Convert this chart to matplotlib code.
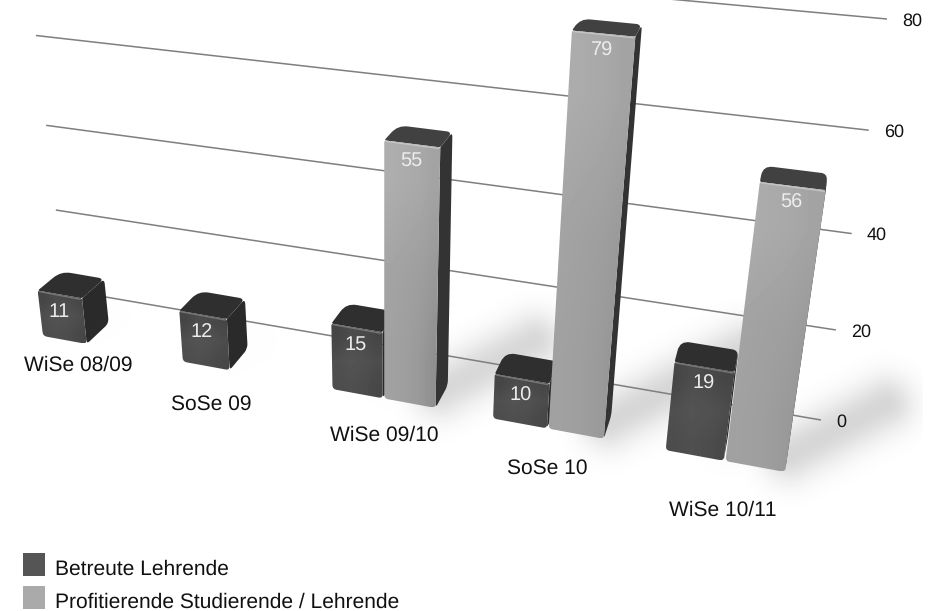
import numpy as np
import matplotlib
matplotlib.use('Agg')
import matplotlib.pyplot as plt
from matplotlib.patches import PathPatch, Rectangle
from matplotlib.path import Path

plt.rcParams['font.family'] = ['Liberation Sans', 'DejaVu Sans']
plt.rcParams['text.hinting'] = 'none'
plt.rcParams['text.hinting_factor'] = 1

# ── data ─────────────────────────────────────────────
semesters = ['WiSe 08/09', 'SoSe 09', 'WiSe 09/10', 'SoSe 10', 'WiSe 10/11']
betreute = [11, 12, 15, 10, 19]
profitierende = [None, None, 55, 79, 56]
series_names = ['Betreute Lehrende', 'Profitierende Studierende / Lehrende']
axis_ticks = [0, 20, 40, 60, 80]

# ── scene set-up: pixel positions of the two planes ──
W, H = 937, 611
BAR_W = 0.32
GAP = 0.33
U_MAX = 4.65
V_MAX = 80
VANISH = np.array([873.0, -400.0])   # depth lines meet here
DEPTH = 0.028                        # bar depth as share of distance to VANISH


def fit_plane(dst, u_max=U_MAX, v_max=V_MAX):
    """Homography from the (u, value) rectangle to four pixel corners."""
    src = [(0, 0), (u_max, 0), (0, v_max), (u_max, v_max)]
    A, b = [], []
    for (u, v), (x, y) in zip(src, dst):
        A.append([u, v, 1, 0, 0, 0, -u * x, -v * x])
        A.append([0, 0, 0, u, v, 1, -u * y, -v * y])
        b += [x, y]
    return np.append(np.linalg.solve(np.array(A, float), np.array(b, float)), 1).reshape(3, 3)


FRONT = fit_plane([(43, 336), (785, 472), (0, -30), (846, 51)])
WALL = fit_plane([(65, 290), (821, 420), (25, -60), (887, 19)], u_max=1)


def project(plane, u, v):
    p = plane @ np.array([u, v, 1.0])
    return p[:2] / p[2]


def recede(p):
    return p + DEPTH * (VANISH - p)


def rounded(pts, radii):
    """Closed path through pts with each corner rounded by its radius."""
    pts = [np.asarray(p, float) for p in pts]
    verts, codes = [], []
    n = len(pts)
    for i, p in enumerate(pts):
        prev, nxt = pts[i - 1], pts[(i + 1) % n]
        a = p + (prev - p) / np.linalg.norm(prev - p) * radii[i]
        b = p + (nxt - p) / np.linalg.norm(nxt - p) * radii[i]
        verts += [a, p, b]
        codes += [Path.MOVETO if i == 0 else Path.LINETO, Path.CURVE3, Path.CURVE3]
    verts.append(verts[0])
    codes.append(Path.CLOSEPOLY)
    return Path(verts, codes)


def shaded_face(ax, path, shade, z):
    """Fill a path with a gradient image clipped to it."""
    box = path.get_extents()
    im = ax.imshow(shade, cmap='gray', vmin=0, vmax=1, aspect='auto', interpolation='bilinear',
                   extent=(box.x0, box.x1, box.y1, box.y0), zorder=z)
    im.set_clip_path(PathPatch(path, transform=ax.transData))


# ── canvas ───────────────────────────────────────────
fig = plt.figure(figsize=(W / 100, H / 100), dpi=100)
ax = fig.add_axes([0, 0, 1, 1])
ax.axis('off')
ax.set_xlim(0, W)
ax.set_ylim(H, 0)
ax.autoscale(False)

# ── floor shadows, length follows the bar value ──────
xx, yy = np.meshgrid(np.arange(W), np.arange(H))
shadow = np.zeros((H, W))
for i in range(len(semesters)):
    for off, val in ((0, betreute[i]), (GAP, profitierende[i])):
        if val is None:
            continue
        s = project(FRONT, i + off + BAR_W, 0) + np.array([5, -18])
        e = s + val * np.array([1.7, -0.9])
        t = np.clip(((xx - s[0]) * (e - s)[0] + (yy - s[1]) * (e - s)[1]) / ((e - s) ** 2).sum(), 0, 1)
        dist = np.hypot(xx - (s[0] + t * (e - s)[0]), yy - (s[1] + t * (e - s)[1]))
        shadow = np.maximum(shadow, min(1, val / 56) ** 2 * 0.16 * np.exp(-(dist / 28) ** 2))
shadow[:, 923:] = 0
ax.imshow(1 - shadow, cmap='gray', vmin=0, vmax=1, extent=(0, W, H, 0), aspect='auto', zorder=0)

# ── gridlines and value axis ─────────────────────────
for t in axis_ticks:
    a, b = project(WALL, 0, t), project(WALL, 1, t)
    ax.plot([a[0], b[0]], [a[1], b[1]], color='#7f7f7f', lw=1.1, zorder=1, solid_capstyle='butt')
    ax.text(b[0] + 15, b[1] + 2, str(t), fontsize=13, ha='left', va='center', color='#111111', zorder=5)


# ── bars ─────────────────────────────────────────────
def draw_bar(u0, value, front_shade, top_col, side_col, edge_col, z):
    fl, fr = project(FRONT, u0, 0), project(FRONT, u0 + BAR_W, 0)
    tl, tr = project(FRONT, u0, value), project(FRONT, u0 + BAR_W, value)
    bl_top, br_top, br_bot = recede(tl), recede(tr), recede(fr)

    ax.add_patch(PathPatch(rounded([fr, br_bot, br_top, tr], [4, 5, 5, 1]),
                           fc=side_col, ec='none', zorder=z))
    ax.add_patch(PathPatch(rounded([tl, tr, br_top, bl_top], [2, 2, 6, 10]),
                           fc=top_col, ec='none', zorder=z + 0.1))
    front = rounded([tl, tr, fr, fl], [2, 2, 4, 4])
    shaded_face(ax, front, front_shade, z + 0.2)
    # lit edge where the front meets the top
    ax.plot([tl[0] + 2, tr[0] - 2], [tl[1] + 1, tr[1] + 1], color=edge_col, lw=1.0, zorder=z + 0.3)


dark_front = np.array([[0.27, 0.30, 0.29, 0.27], [0.31, 0.33, 0.32, 0.30], [0.30, 0.31, 0.30, 0.28]])
light_front = np.array([[0.68, 0.67, 0.66, 0.64], [0.64, 0.63, 0.62, 0.60], [0.63, 0.62, 0.60, 0.56]])

for i, name in enumerate(semesters):
    draw_bar(i, betreute[i], dark_front, '#2f2f2f', '#2a2a2a', '#777777', 2 + i)
    if profitierende[i] is not None:
        draw_bar(i + GAP, profitierende[i], light_front, '#414141', '#333333', '#c4c4c4', 2.5 + i)

# ── value labels sit just under the top front edge ───
for i in range(len(semesters)):
    for off, val in ((0, betreute[i]), (GAP, profitierende[i])):
        if val is None:
            continue
        p = project(FRONT, i + off + BAR_W / 2, val)
        ax.text(p[0] - 1, p[1] + 17, str(val), fontsize=14.5, color='#ececec',
                ha='center', va='center', zorder=10)

# ── category labels ──────────────────────────────────
label_shift = [(13, 25), (5, 38), (0, 37), (-1, 40), (-3, 49)]
for i, name in enumerate(semesters):
    centre = BAR_W / 2 if profitierende[i] is None else GAP
    p = project(FRONT, i + centre, 0)
    ax.text(p[0] + label_shift[i][0], p[1] + label_shift[i][1], name, fontsize=15.2,
            ha='center', va='center', color='#111111', zorder=10)

# ── legend ───────────────────────────────────────────
for y, name, col in zip((553, 586), series_names, ('#555555', '#aaaaaa')):
    ax.add_patch(Rectangle((23, y), 22, 23, fc=col, ec='none', zorder=10))
    ax.text(55, y + 16, name, fontsize=15.2, ha='left', va='center', color='#111111', zorder=10)

ax.set_xlim(0, W)
ax.set_ylim(H, 0)
fig.savefig('out.png', dpi=100, facecolor='white')
plt.close()
